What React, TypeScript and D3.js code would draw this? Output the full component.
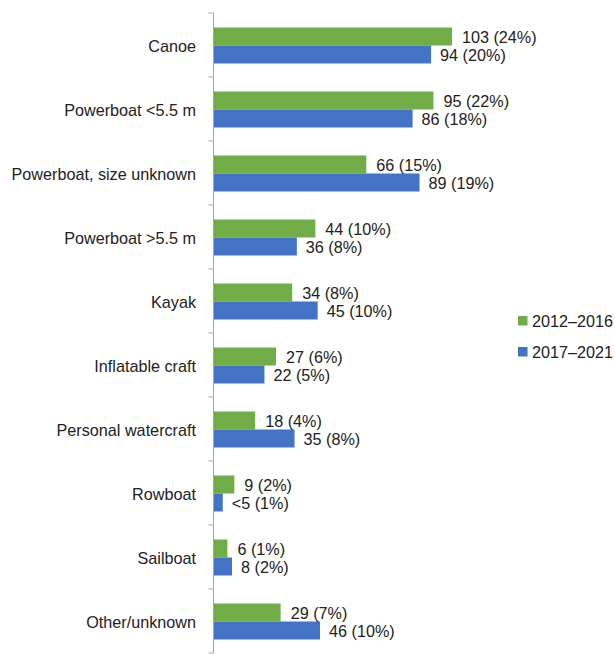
import React from "react";
import * as d3 from "d3";

const categories = [
  "Canoe",
  "Powerboat <5.5 m",
  "Powerboat, size unknown",
  "Powerboat >5.5 m",
  "Kayak",
  "Inflatable craft",
  "Personal watercraft",
  "Rowboat",
  "Sailboat",
  "Other/unknown",
];
const series1Name = "2012\u20132016";
const series2Name = "2017\u20132021";
const values1 = [103, 95, 66, 44, 34, 27, 18, 9, 6, 29];
const values2 = [94, 86, 89, 36, 45, 22, 35, 4, 8, 46];
const labels1 = ["103 (24%)", "95 (22%)", "66 (15%)", "44 (10%)", "34 (8%)", "27 (6%)", "18 (4%)", "9 (2%)", "6 (1%)", "29 (7%)"];
const labels2 = ["94 (20%)", "86 (18%)", "89 (19%)", "36 (8%)", "45 (10%)", "22 (5%)", "35 (8%)", "<5 (1%)", "8 (2%)", "46 (10%)"];

const W = 615;
const H = 654;
const GREEN = "#70AD47";
const BLUE = "#4472C4";
const FONT = "'Liberation Sans', Arial, sans-serif";
const FS = 16.2;

export default function App() {
  const x0 = 213.5;
  const x = d3.scaleLinear().domain([0, 120]).range([x0, x0 + 120 * 2.315]);
  const y = d3.scaleBand().domain(categories).range([13, 653]).padding(0);
  const bw = y.bandwidth();
  const barH = 18;
  const boundaries = d3.range(categories.length + 1).map((i) => 13 + i * bw);

  return (
    <svg
      width={W}
      height={H}
      style={{ position: "absolute", left: 0, top: 0, background: "#fff" }}
      fontFamily={FONT}
      fontSize={FS}
    >
      {categories.map((c, i) => {
        const cy = (y(c) as number) + bw / 2 + 0.5;
        return (
          <g key={c}>
            <text x={196} y={cy} textAnchor="end" dominantBaseline="central" fill="#222">
              {c}
            </text>
            <rect x={x(0)} y={cy - barH} width={x(values1[i]) - x(0)} height={barH} fill={GREEN} />
            <rect x={x(0)} y={cy} width={x(values2[i]) - x(0)} height={barH} fill={BLUE} />
            <text x={x(values1[i]) + 10} y={cy - barH / 2} dominantBaseline="central" fill="#222">
              {labels1[i]}
            </text>
            <text x={x(values2[i]) + 9} y={cy + barH / 2} dominantBaseline="central" fill="#222">
              {labels2[i]}
            </text>
          </g>
        );
      })}
      <line x1={x0} x2={x0} y1={13} y2={653} stroke="#A6A6A6" strokeWidth={1} />
      {boundaries.map((b, i) => (
        <line key={i} x1={x0 - 5} x2={x0} y1={b} y2={b} stroke="#A6A6A6" strokeWidth={1} />
      ))}
      <g>
        <rect x={518} y={316} width={9.5} height={9.5} fill={GREEN} />
        <text x={532} y={321} dominantBaseline="central" fill="#222">
          {series1Name}
        </text>
        <rect x={518} y={347} width={9.5} height={9.5} fill={BLUE} />
        <text x={532} y={352} dominantBaseline="central" fill="#222">
          {series2Name}
        </text>
      </g>
    </svg>
  );
}
